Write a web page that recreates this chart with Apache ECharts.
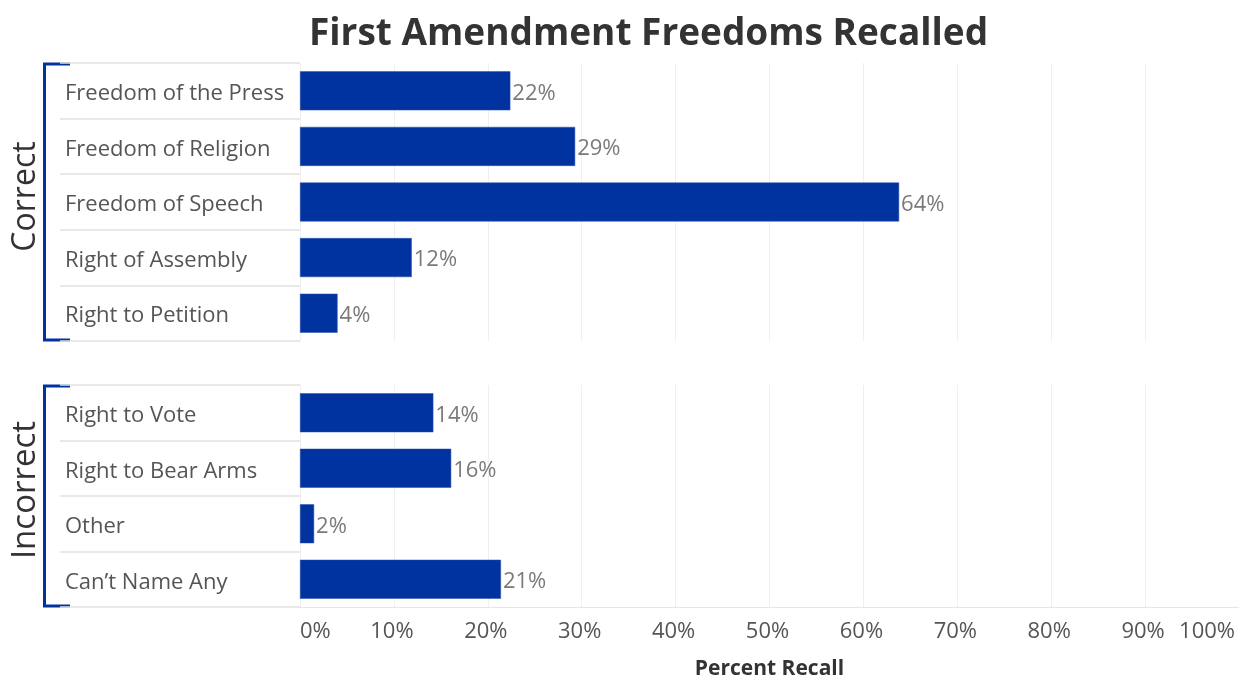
<!DOCTYPE html>
<html>
<head>
<meta charset="utf-8">
<script src="https://cdn.jsdelivr.net/npm/echarts@6/dist/echarts.min.js"></script>
<style>
html,body{margin:0;padding:0;background:#fff;}
#chart{width:1239px;height:677px;}
</style>
</head>
<body>
<div id="chart"></div>
<script>
const titleText = 'First Amendment Freedoms Recalled';
const groupNames = ['Correct', 'Incorrect'];
const correctCategories = ['Freedom of the Press', 'Freedom of Religion', 'Freedom of Speech', 'Right of Assembly', 'Right to Petition'];
const correctValues = [22.4, 29.3, 63.8, 11.9, 4.0];
const incorrectCategories = ['Right to Vote', 'Right to Bear Arms', 'Other', 'Can\u2019t Name Any'];
const incorrectValues = [14.2, 16.1, 1.5, 21.4];
const xTicks = { min: 0, max: 100, interval: 10 };
const xAxisTitle = 'Percent Recall';

const FONT = '"Open Sans", "Noto Sans", sans-serif';
const BAR = '#0033a0';
const GRIDC = '#efefef';

const chart = echarts.init(document.getElementById('chart'), null, {renderer: 'canvas'});

const panels = [
  {top: 63, height: 278},
  {top: 385, height: 222}
];

function valueLabel() {
  return {
    show: true, position: 'right', distance: 2,
    formatter: p => '{v|' + Math.round(p.value) + '%}',
    rich: {v: {color: '#7a7a7a', fontSize: 22, fontFamily: FONT, padding: [5, 0, 0, 0]}}
  };
}

function catLabel() {
  return {show: true, align: 'left', margin: 5, color: '#555', fontSize: 22, fontFamily: FONT,
          inside: true,
          formatter: v => '{c|' + v + '}',
          rich: {c: {color: '#555', fontSize: 22, fontFamily: FONT, padding: [6, 0, 0, 0]}}};
}

function gridBox(left, width, p) {
  return {left: left, width: width, top: p.top, height: p.height, containLabel: false, outerBoundsMode: 'none'};
}

const option = {
  backgroundColor: '#fff',
  animation: false,
  title: {
    text: titleText, left: 304, top: 11,
    textStyle: {fontFamily: FONT, fontWeight: 'bold', fontSize: 37, color: '#333'}
  },
  grid: [
    gridBox(300, 939, panels[0]),
    gridBox(300, 939, panels[1]),
    gridBox(60, 240, panels[0]),
    gridBox(60, 240, panels[1])
  ],
  xAxis: [
    {gridIndex: 0, type: 'value', min: xTicks.min, max: xTicks.max, interval: xTicks.interval,
     axisLabel: {show: false}, axisLine: {show: false}, axisTick: {show: false},
     splitLine: {show: true, lineStyle: {color: GRIDC, width: 1}}},
    {gridIndex: 1, type: 'value', min: xTicks.min, max: xTicks.max, interval: xTicks.interval,
     axisLabel: {show: true, formatter: '{value}%', color: '#555', fontSize: 22, fontFamily: FONT, margin: 14,
                 alignMinLabel: 'left', alignMaxLabel: 'right', padding: [0, 4, 0, 0]},
     axisLine: {show: true, lineStyle: {color: '#e6e6e6', width: 1}}, axisTick: {show: false},
     splitLine: {show: true, lineStyle: {color: GRIDC, width: 1}},
     name: xAxisTitle, nameLocation: 'middle', nameGap: 52,
     nameTextStyle: {fontFamily: FONT, fontWeight: 'bold', fontSize: 21, color: '#333'}},
    {gridIndex: 2, type: 'value', show: false, min: 0, max: 1},
    {gridIndex: 3, type: 'value', show: false, min: 0, max: 1}
  ],
  yAxis: [
    {gridIndex: 0, type: 'category', data: correctCategories, inverse: true,
     axisLabel: {show: false}, axisLine: {show: false}, axisTick: {show: false}, splitLine: {show: false}},
    {gridIndex: 1, type: 'category', data: incorrectCategories, inverse: true,
     axisLabel: {show: false}, axisLine: {show: false}, axisTick: {show: false}, splitLine: {show: false}},
    {gridIndex: 2, type: 'category', data: correctCategories, inverse: true,
     axisLabel: catLabel(),
     axisLine: {show: false}, axisTick: {show: false},
     splitLine: {show: true, lineStyle: {color: '#e2e2e2', width: 1.5}},
     name: groupNames[0], nameLocation: 'middle', nameRotate: 90, nameGap: 18,
     nameTextStyle: {fontFamily: FONT, fontSize: 32, color: '#333', padding: [0, 0, 0, 11]}},
    {gridIndex: 3, type: 'category', data: incorrectCategories, inverse: true,
     axisLabel: catLabel(),
     axisLine: {show: false}, axisTick: {show: false},
     splitLine: {show: true, lineStyle: {color: '#e2e2e2', width: 1.5}},
     name: groupNames[1], nameLocation: 'middle', nameRotate: 90, nameGap: 18,
     nameTextStyle: {fontFamily: FONT, fontSize: 33, color: '#333', padding: [0, 0, 0, 12]}}
  ],
  series: [
    {type: 'bar', xAxisIndex: 0, yAxisIndex: 0, data: correctValues, barWidth: 39,
     itemStyle: {color: BAR, borderColor: '#2a4fb0', borderWidth: 0.5}, label: valueLabel()},
    {type: 'bar', xAxisIndex: 1, yAxisIndex: 1, data: incorrectValues, barWidth: 39,
     itemStyle: {color: BAR, borderColor: '#2a4fb0', borderWidth: 0.5}, label: valueLabel()}
  ],
  graphic: panels.map(p => ({
    type: 'group',
    children: [
      {type: 'line', shape: {x1: 44.5, y1: p.top, x2: 44.5, y2: p.top + p.height}, style: {stroke: BAR, lineWidth: 3}},
      {type: 'line', shape: {x1: 43, y1: p.top + 1, x2: 70, y2: p.top + 1}, style: {stroke: BAR, lineWidth: 3}},
      {type: 'line', shape: {x1: 43, y1: p.top + p.height - 1, x2: 70, y2: p.top + p.height - 1}, style: {stroke: BAR, lineWidth: 3}}
    ]
  }))
};

chart.setOption(option);
</script>
</body>
</html>
